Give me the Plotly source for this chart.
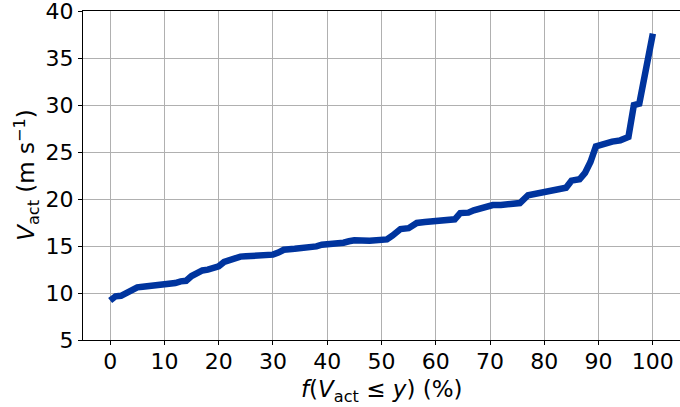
import plotly.graph_objects as go

pct = [0, 1, 2, 3, 4, 5, 6, 8, 10, 11, 12, 13, 14, 15, 16, 17, 18, 19, 20,
       21, 22, 23, 24, 25, 27, 29, 30, 31, 32, 34, 36, 38, 39, 40, 42, 43,
       44, 45, 47.8, 49, 51, 52, 53.5, 55, 56.5, 58, 60, 62, 63.5, 64.5, 66,
       67, 68, 69.5, 70.5, 72, 74, 75.5, 77, 78.5, 80, 81, 82.5, 84, 85,
       86.5, 87.5, 88.5, 89.5, 91, 92.5, 94, 95.5, 96.5, 97.5, 100]
v_act = [9.2, 9.65, 9.7, 10.0, 10.35, 10.6, 10.67, 10.78, 10.78, 10.85,
         11.06, 11.24, 11.3, 11.8, 12.2, 12.4, 12.48, 12.73, 12.84, 13.3,
         13.5, 13.55, 13.87, 13.9, 13.97, 14.04, 14.08, 14.3, 14.6, 14.7,
         14.77, 14.96, 15.14, 15.17, 15.17, 15.35, 15.5, 15.6, 15.57, 15.64,
         15.7, 16.1, 16.8, 16.9, 17.45, 17.55, 17.6, 17.77, 17.84, 18.5,
         18.55, 18.8, 18.97, 19.3, 19.36, 19.36, 19.4, 19.57, 20.4, 20.6,
         20.64, 20.9, 20.96, 21.2, 21.95, 22.1, 22.77, 23.94, 25.6, 25.9,
         26.1, 26.24, 26.6, 30.0, 30.15, 37.6]

x_ticks = list(range(0, 101, 10))
y_ticks = list(range(5, 41, 5))

FONT = "DejaVu Sans"

fig = go.Figure()
fig.add_trace(go.Scatter(
    x=pct, y=v_act, mode="lines",
    line={"color": "#00349e", "width": 6.5},
    showlegend=False,
))

axis_common = dict(
    showgrid=True, gridcolor="#b0b0b0", gridwidth=1,
    showline=True, linecolor="black", linewidth=1.2,
    ticks="outside", ticklen=4, tickcolor="black",
    tickfont={"size": 22, "color": "black", "family": FONT},
    zeroline=False, automargin=False, ticklabeloverflow="allow",
)

fig.update_xaxes(range=[-5, 105], tickvals=x_ticks, mirror=True,
                 ticklabelstandoff=-3, **axis_common)
fig.update_yaxes(range=[5, 40], tickvals=y_ticks, **axis_common)

# axis titles as annotations so their positions can be set exactly
fig.add_annotation(
    text="<i>f</i>(<i>V</i><sub>act</sub> ≤ <i>y</i>) (%)",
    xref="paper", yref="paper", x=0.5, y=-0.155,
    xanchor="center", yanchor="middle", showarrow=False,
    font={"size": 23, "color": "black", "family": FONT},
)
fig.add_annotation(
    text="<i>V</i><sub>act</sub> (m s<sup>−1</sup>)",
    xref="paper", yref="paper", x=-0.095, y=0.5, textangle=-90,
    xanchor="center", yanchor="middle", showarrow=False,
    font={"size": 23, "color": "black", "family": FONT},
)

fig.update_layout(
    width=680, height=407,
    margin={"l": 83, "r": 0, "t": 11, "b": 67},
    paper_bgcolor="white", plot_bgcolor="white",
    font={"family": FONT, "color": "black"},
)

# drop the default 8px page margin so the figure fills the window
fig.write_html("out.html", config={"displayModeBar": False},
               post_script="document.body.style.margin = '0';")
